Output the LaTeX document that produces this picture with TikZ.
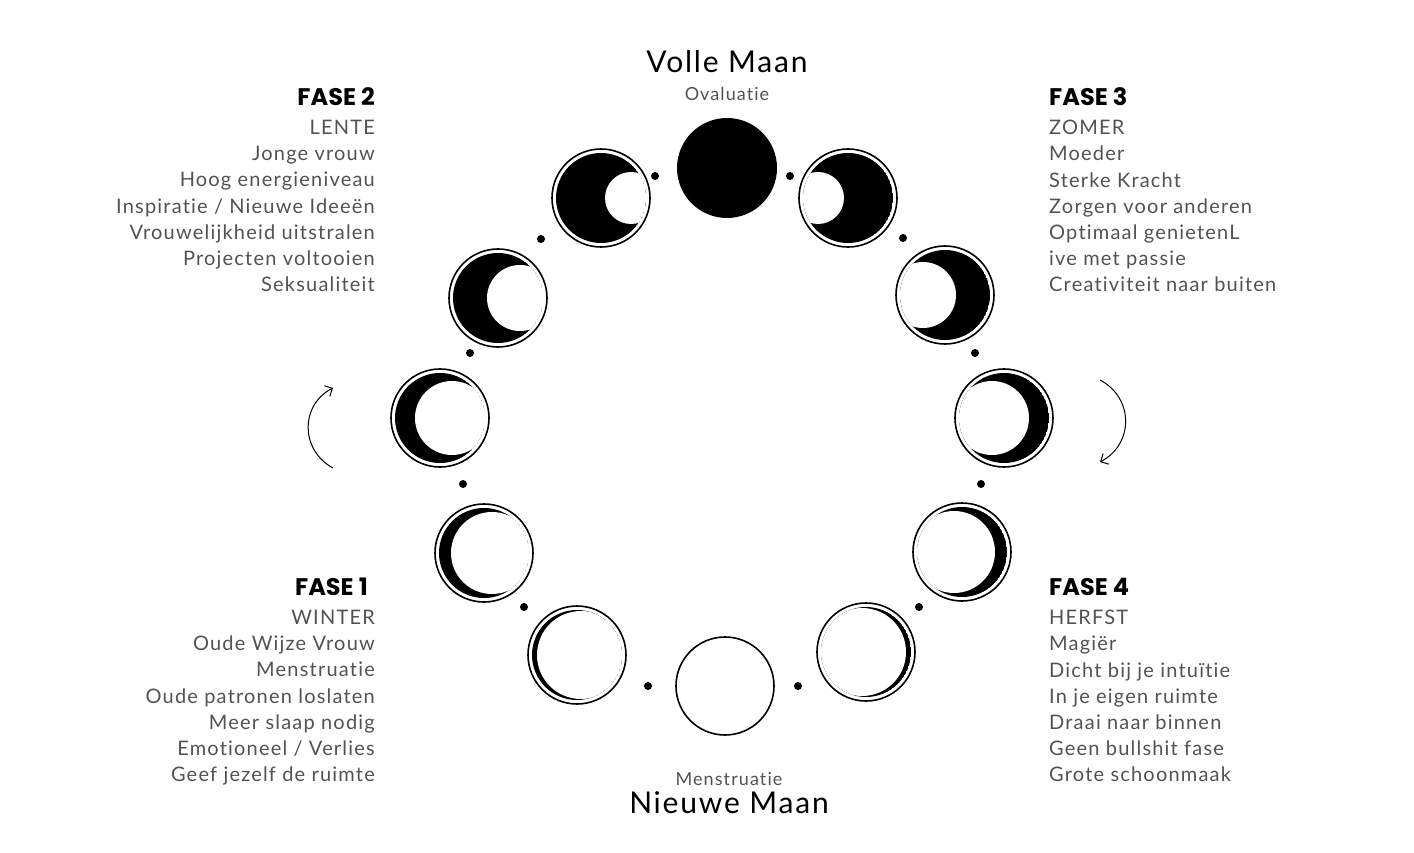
\documentclass[tikz,border=0pt]{standalone}
\usetikzlibrary{arrows.meta}
\usepackage{fontspec}
\setmainfont{Lato}[Ligatures=NoCommon, LetterSpace=6]
\newfontfamily\hd{Poppins}
\begin{document}
\begin{tikzpicture}[x=1pt,y=-1pt,
  txt/.style={font=\fontsize{20}{26.2}\selectfont, text=black!68, inner sep=0pt},
  head/.style={font=\hd\bfseries\fontsize{24}{30}\selectfont, inner sep=0pt},
  dot/.style={fill=black, circle, inner sep=0pt, minimum size=8pt}]
\useasboundingbox (0,0) rectangle (1414,853);
\newcommand\mymoon[4]{%
  \coordinate (#1) at #2;
  \draw[line width=1.6pt] (#1) circle (49);
  \begin{scope}
    \clip (#1) circle (45);
    \fill[black] (#1) circle (45);
    \fill[white] ([xshift=#3]#1) circle (#4);
  \end{scope}}
\node[fill=black, circle, minimum size=100pt, inner sep=0pt] (m0) at (727,168) {};
\mymoon{m1}{(848,198)}{-30}{26}
\mymoon{m2}{(945,295)}{-22}{33}
\mymoon{m3}{(1004,418)}{-12}{37}
\mymoon{m4}{(962,552)}{-8}{41}
\mymoon{m5}{(866,652)}{-4}{44}
\node[draw, line width=1.6pt, circle, minimum size=98pt, inner sep=0pt] (m6) at (725,686) {};
\mymoon{m7}{(577,655)}{4}{44}
\mymoon{m8}{(484,553)}{8}{41}
\mymoon{m9}{(440,418)}{12}{37}
\mymoon{m10}{(498,298)}{22}{33}
\mymoon{m11}{(601,198)}{30}{26}
\foreach \p [count=\i] in {(655,176),(790,176),(903,238),(975,353),(981,484),(919,607),(798,686),(648,686),(524,607),(463,484),(470,353),(541,239)}
  \node[dot] (d\i) at \p {};
\coordinate (a1) at (333,468); \coordinate (a2) at (333,388);
\draw[-{Straight Barb[length=6pt]}, line width=1pt] (a1) .. controls (300,450) and (300,405) .. (a2);
\coordinate (b1) at (1100,380); \coordinate (b2) at (1100,462);
\draw[-{Straight Barb[length=6pt]}, line width=1pt] (b1) .. controls (1134,398) and (1134,444) .. (b2);
\node[font=\fontsize{30}{34}\selectfont, inner sep=0pt] (vm) at (727,62) {Volle Maan};
\node[txt, font=\fontsize{18}{20}\selectfont] (ov) at (727,94) {Ovaluatie};
\node[txt, font=\fontsize{18}{20}\selectfont] (me) at (729,779) {Menstruatie};
\node[font=\fontsize{30}{34}\selectfont, inner sep=0pt] (nm) at (729,803) {Nieuwe Maan};
\node[head, anchor=east] (f2) at (375,97) {FASE 2};
\node[txt, anchor=north east, align=right] (t2) at (375,120) {LENTE\\Jonge vrouw\\Hoog energieniveau\\Inspiratie / Nieuwe Ideeën\\Vrouwelijkheid uitstralen\\Projecten voltooien\\Seksualiteit};
\node[head, anchor=west] (f3) at (1049,97) {FASE 3};
\node[txt, anchor=north west, align=left] (t3) at (1049,120) {ZOMER\\Moeder\\Sterke Kracht\\Zorgen voor anderen\\Optimaal genietenL\\ive met passie\\Creativiteit naar buiten};
\node[head, anchor=east] (f1) at (368,587) {FASE 1};
\node[txt, anchor=north east, align=right] (t1) at (375,610) {WINTER\\Oude Wijze Vrouw\\Menstruatie\\Oude patronen loslaten\\Meer slaap nodig\\Emotioneel / Verlies\\Geef jezelf de ruimte};
\node[head, anchor=west] (f4) at (1049,587) {FASE 4};
\node[txt, anchor=north west, align=left] (t4) at (1049,610) {HERFST\\Magiër\\Dicht bij je intuïtie\\In je eigen ruimte\\Draai naar binnen\\Geen bullshit fase\\Grote schoonmaak};
\end{tikzpicture}
\end{document}
